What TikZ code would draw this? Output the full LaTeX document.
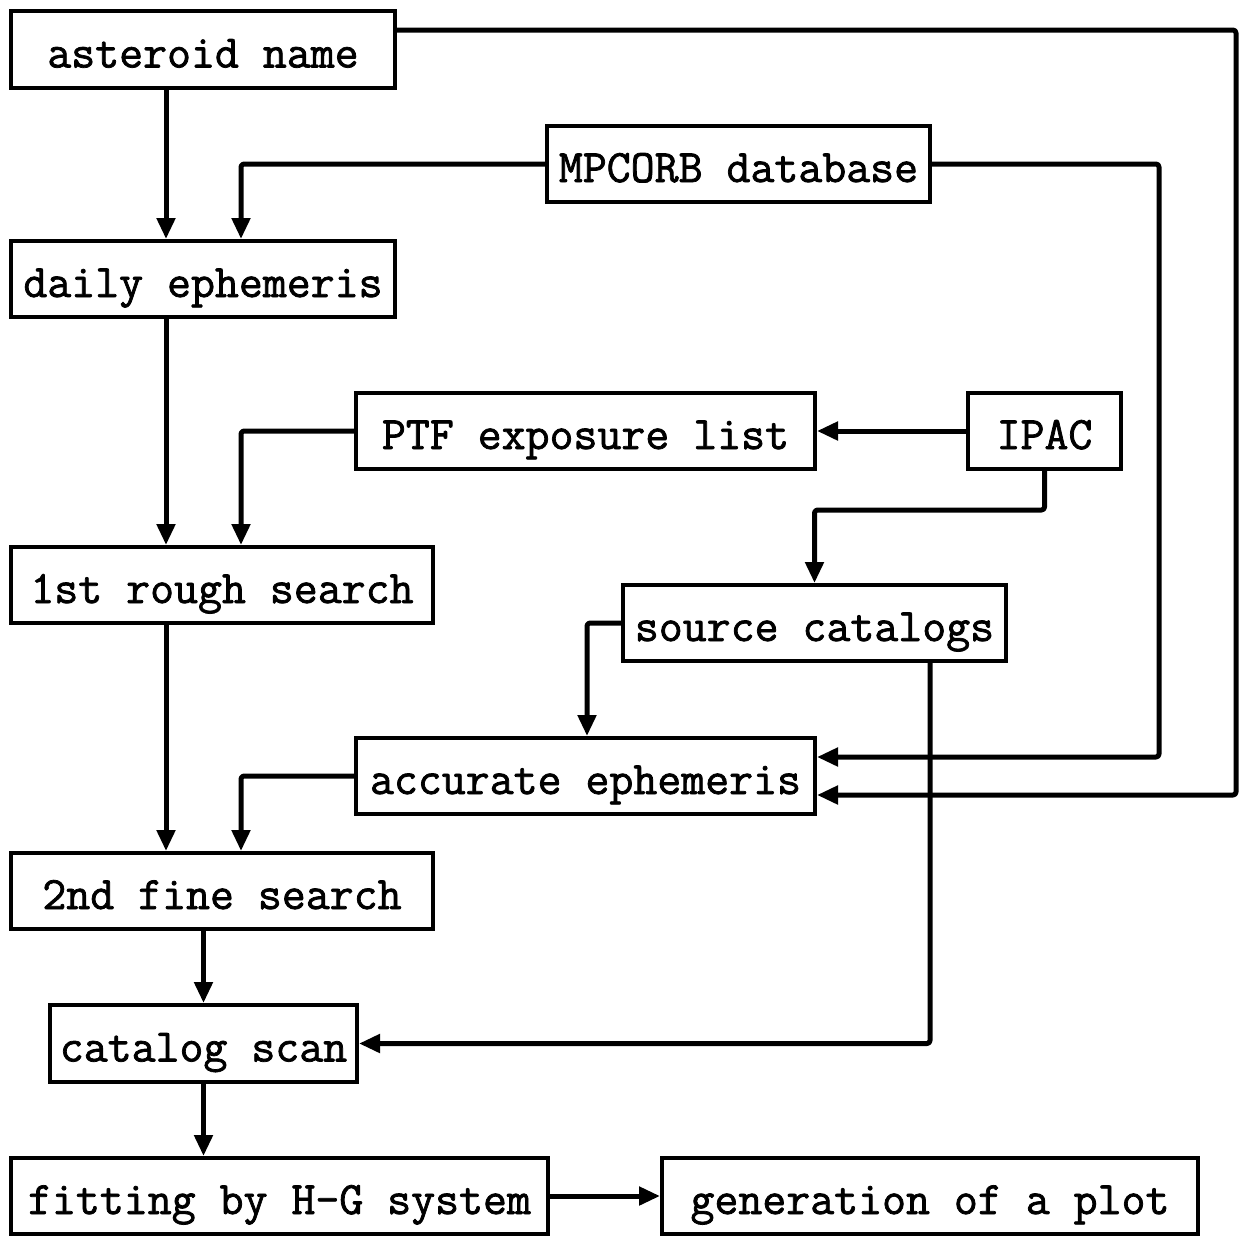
\documentclass[tikz,border=0pt]{standalone}
\usepackage{fontspec}
\newfontfamily\boxfont{Latin Modern Mono}[FakeBold=1.6]
\usetikzlibrary{arrows.meta}
\begin{document}
\begin{tikzpicture}[x=1pt,y=-1pt,
  box/.style={draw, line width=4pt, rectangle, inner sep=0pt,
    minimum height=76pt, text height=40pt, text depth=4pt,
    font=\boxfont\bfseries\fontsize{46.5}{52}\selectfont},
  link/.style={line width=5pt, rounded corners=3pt, line join=round,
    -{Triangle[length=21pt,width=18pt]}}
]
\useasboundingbox (0,0) rectangle (1239,1235);

% boxes
\node[box, minimum width=384pt, minimum height=77pt] (name) at (203,49.5) {asteroid name};
\node[box, minimum width=383pt] (mp)    at (738.5,164) {MPCORB database};
\node[box, minimum width=384pt] (daily) at (203,279) {daily ephemeris};
\node[box, minimum width=459pt] (ptf)   at (585.5,431) {PTF exposure list};
\node[box, minimum width=153pt] (ipac)  at (1044.5,431) {IPAC};
\node[box, minimum width=422pt] (rough) at (222,585) {1st rough search};
\node[box, minimum width=383pt] (src)   at (814.5,623) {source catalogs};
\node[box, minimum width=459pt] (acc)   at (585.5,776) {accurate ephemeris};
\node[box, minimum width=422pt] (fine)  at (222,891) {2nd fine search};
\node[box, minimum width=307pt, minimum height=77pt] (scan) at (203.5,1043.5) {catalog scan};
\node[box, minimum width=537pt] (fit)   at (279.5,1196) {fitting by H-G system};
\node[box, minimum width=536pt] (gen)   at (930,1196) {generation of a plot};

% connectors
\draw[link] ([xshift=-37pt]name.south) -- ([xshift=-37pt]daily.north);
\draw[link] ([yshift=19.5pt]name.east) -| (1236,795) -- ([yshift=-19pt]acc.east);
\draw[link] (mp.west) -| ([xshift=38pt]daily.north);
\draw[link] (mp.east) -| (1159,757) -- ([yshift=19pt]acc.east);
\draw[link] ([xshift=-37pt]daily.south) -- ([xshift=-37pt]daily.south |- rough.north);
\draw[link] (ptf.west) -| ([xshift=19pt]rough.north);
\draw[link] (ipac.west) -- (ptf.east);
\draw[link] (ipac.south) -- ++(0,39) -| (src.north);
\draw[link] (src.west) -| ([xshift=1.5pt]acc.north);
\draw[link] ([xshift=-56pt]rough.south) -- ([xshift=-56pt]rough.south |- fine.north);
\draw[link] (acc.west) -| ([xshift=19pt]fine.north);
\draw[link] ([xshift=115.5pt]src.south) |- (scan.east);
\draw[link] (scan.north |- fine.south) -- (scan.north);
\draw[link] (scan.south) -- (scan.south |- fit.north);
\draw[link] (fit.east) -- (gen.west);
\end{tikzpicture}
\end{document}
